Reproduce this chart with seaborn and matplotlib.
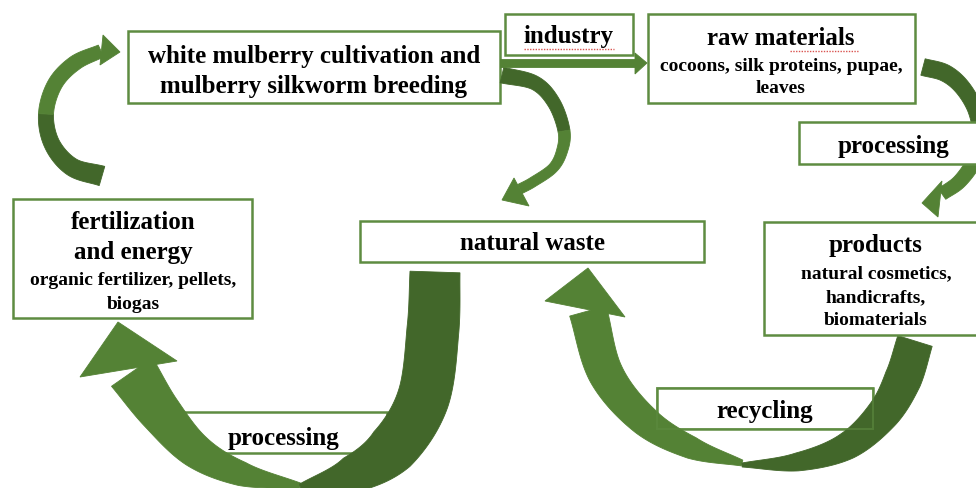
import numpy as np
import matplotlib
matplotlib.use("Agg")
import seaborn as sns
from matplotlib import pyplot as plt
from matplotlib.patches import Polygon, Rectangle

# ---- text of the diagram ----
source_lines = ["white mulberry cultivation and", "mulberry silkworm breeding"]
raw_title = "raw materials"
raw_detail = ["cocoons, silk proteins, pupae,", "leaves"]
product_title = "products"
product_detail = ["natural cosmetics,", "handicrafts,", "biomaterials"]
fert_title = ["fertilization", "and energy"]
fert_detail = ["organic fertilizer, pellets,", "biogas"]
waste_label = "natural waste"
step_labels = ["industry", "processing", "processing", "recycling"]

LIGHT = "#548235"
DARK = "#42672a"
EDGE = "#5e8c41"
TITLE = 18
DETAIL = 14

sns.set_theme(style="white")
plt.rcParams["font.family"] = ["Liberation Serif", "DejaVu Serif"]

fig = plt.figure(figsize=(9.76, 4.89), dpi=100)
ax = fig.add_axes([0, 0, 1, 1])
ax.set_xlim(0, 976)
ax.set_ylim(489, 0)
ax.axis("off")


def spline(pts, n=24):
    # catmull-rom curve through the guide points
    p = np.asarray(pts, float)
    p = np.vstack([2 * p[0] - p[1], p, 2 * p[-1] - p[-2]])
    t = np.linspace(0, 1, n, endpoint=False)[:, None]
    segs, par = [], []
    for i in range(1, len(p) - 2):
        p0, p1, p2, p3 = p[i - 1], p[i], p[i + 1], p[i + 2]
        segs.append(0.5 * (2 * p1 + (p2 - p0) * t
                           + (2 * p0 - 5 * p1 + 4 * p2 - p3) * t ** 2
                           + (3 * p1 - p0 - 3 * p2 + p3) * t ** 3))
        par.append(i - 1 + t[:, 0])
    segs.append(p[-2][None])
    par.append([len(pts) - 1])
    return np.vstack(segs), np.concatenate(par)


def ribbon(pts, widths, colors, split=None, z=2):
    c, s = spline(pts)
    w = np.interp(s, np.arange(len(widths)), widths)
    d = np.gradient(c, axis=0)
    d /= np.hypot(d[:, 0], d[:, 1])[:, None]
    nrm = np.column_stack([-d[:, 1], d[:, 0]])
    parts = [(s >= -1, colors[0])] if split is None else \
        [(s <= split, colors[0]), (s >= split, colors[1])]
    for m, col in parts:
        cc, ww, nn = c[m], w[m][:, None] / 2, nrm[m]
        poly = np.vstack([cc + nn * ww, (cc - nn * ww)[::-1]])
        ax.add_patch(Polygon(poly, closed=True, fc=col, ec=col, lw=0.6, zorder=z))


def head(tip, a, b, color, z=2):
    ax.add_patch(Polygon([tip, a, b], closed=True, fc=color, ec=color, lw=0.6, zorder=z))


def box(x0, y0, x1, y1, z=1):
    ax.add_patch(Rectangle((x0, y0), x1 - x0, y1 - y0, fc="white", ec=EDGE,
                           lw=1.8, zorder=z))


def label(x, y, s, size=TITLE, z=5):
    ax.text(x, y, s, ha="center", va="baseline", fontsize=size,
            fontweight="bold", color="black", zorder=z)


# ---- boxes under the arrows ----
box(128, 32, 500, 104)
box(505, 15, 633, 56)
box(648, 15, 915, 104)
box(360, 222, 704, 263)
box(13, 200, 252, 319)
box(178, 413, 387, 454)
box(657, 389, 873, 430)

# ---- arrows ----
# left: fertilization -> cultivation
ribbon([(102, 177), (72, 168), (52, 145), (46, 115), (55, 85), (75, 64), (101, 52)],
       [20, 18, 16, 15, 15, 15, 13], [DARK, LIGHT], split=3)
head((120, 53), (103, 36), (100, 66), LIGHT)

# cultivation -> natural waste
ribbon([(502, 76), (535, 84), (554, 104), (564, 132), (562, 152), (553, 169), (533, 183), (520, 190)],
       [16, 14, 13, 12, 11, 10, 10, 10], [DARK, LIGHT], split=3)
head((502, 201), (514, 179), (529, 207), LIGHT)

# industry: straight arrow
ax.add_patch(Rectangle((500, 60), 137, 8, fc=LIGHT, ec=LIGHT, lw=0.6, zorder=2))
head((647, 64), (635, 54), (635, 75), LIGHT)

# raw materials -> products
ribbon([(923, 68), (945, 74), (962, 88), (975, 110), (980, 135), (975, 160), (960, 182), (942, 195)],
       [17, 17, 16, 15, 15, 15, 14, 13], [DARK, LIGHT], split=4)
head((922, 204), (942, 182), (938, 218), LIGHT)

# natural waste -> fertilization (big)
ribbon([(132, 373), (160, 413), (196, 452), (242, 475), (300, 487)],
       [50, 42, 34, 24, 6], [LIGHT])
ribbon([(435, 273), (433, 330), (423, 400), (392, 450), (350, 476), (300, 487)],
       [50, 52, 52, 50, 36, 4], [DARK])
head((118, 323), (80, 378), (177, 362), LIGHT)

# products -> natural waste (big)
ribbon([(588, 312), (606, 375), (645, 422), (692, 449), (742, 464)],
       [38, 35, 30, 22, 6], [LIGHT])
ribbon([(915, 342), (903, 380), (883, 415), (847, 447), (797, 463), (742, 466)],
       [36, 37, 33, 27, 18, 4], [DARK])
head((588, 269), (545, 302), (625, 318), LIGHT)

# ---- boxes over the arrows ----
box(799, 123, 990, 165, z=3)
box(764, 223, 990, 336, z=3)
ax.add_patch(Rectangle((657, 389), 216, 41, fc="none", ec=EDGE, lw=1.4, alpha=0.6, zorder=3))

# ---- text ----
label(314, 63, source_lines[0])
label(314, 93, source_lines[1])
label(569, 43, step_labels[0])
label(781, 45, raw_title)
label(781, 71, raw_detail[0], DETAIL)
label(781, 93, raw_detail[1], DETAIL)
label(894, 153, step_labels[1])
label(533, 250, waste_label)
label(876, 252, product_title)
for y, s in zip([278, 302, 325], product_detail):
    label(876, y, s, DETAIL)
label(133, 229, fert_title[0])
label(133, 259, fert_title[1])
label(133, 285, fert_detail[0], DETAIL)
label(133, 309, fert_detail[1], DETAIL)
label(283, 445, step_labels[2])
label(765, 418, step_labels[3])

# spell-check underlines
ax.plot([524, 614], [50, 50], color="#d9534f", lw=1, ls=(0, (1, 1)), zorder=6)
ax.plot([790, 858], [52, 52], color="#d9534f", lw=1, ls=(0, (1, 1)), zorder=6)

fig.savefig("out.png", dpi=100)
